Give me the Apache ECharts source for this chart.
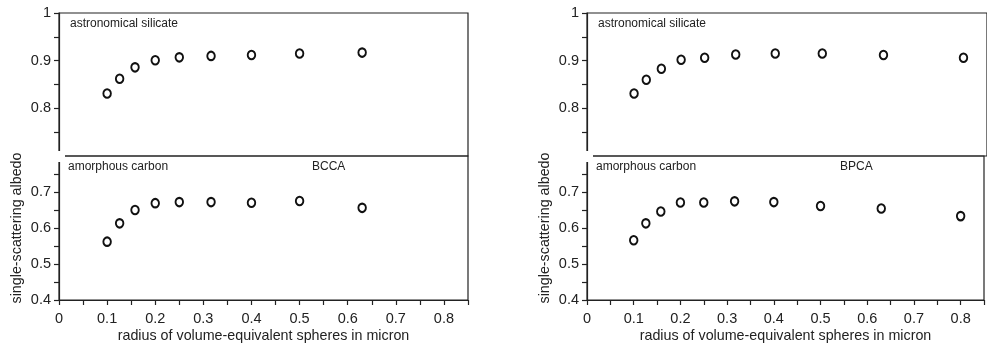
<!DOCTYPE html>
<html>
<head>
<meta charset="utf-8">
<script src="https://cdn.jsdelivr.net/npm/echarts@6/dist/echarts.min.js"></script>
<style>
  html, body { margin: 0; background: #fff; }
  #chart { width: 987px; height: 346px; }
</style>
</head>
<body>
<div id="chart"></div>
<script>
// radius of volume-equivalent spheres (micron)
const radiusBCCA = [0.1, 0.126, 0.158, 0.2, 0.25, 0.316, 0.4, 0.5, 0.63];
const radiusBPCA = [0.1, 0.126, 0.158, 0.2, 0.25, 0.316, 0.4, 0.5, 0.63, 0.8];

// single-scattering albedo
const silicateBCCA = [0.831, 0.862, 0.886, 0.901, 0.907, 0.910, 0.912, 0.915, 0.917];
const carbonBCCA = [0.562, 0.613, 0.650, 0.669, 0.672, 0.672, 0.670, 0.675, 0.656];
const silicateBPCA = [0.831, 0.860, 0.883, 0.902, 0.906, 0.913, 0.915, 0.915, 0.912, 0.906];
const carbonBPCA = [0.566, 0.613, 0.646, 0.671, 0.671, 0.674, 0.672, 0.661, 0.654, 0.633];

const ink = '#222';
const fontFamily = '"Liberation Sans", Arial, Helvetica, sans-serif';

// label only multiples of 0.1, optionally hiding one (in hundredths)
const tickLabel = (hide) => (v) => {
  const k = Math.round(v * 100);
  if (k % 10 !== 0 || k === hide) return '';
  return String(k / 100);
};

const panels = [
  { left: 59, width: 409, name: 'BCCA', radius: radiusBCCA, silicate: silicateBCCA, carbon: carbonBCCA },
  { left: 587, width: 408, name: 'BPCA', radius: radiusBPCA, silicate: silicateBPCA, carbon: carbonBPCA },
];

const grids = [];
const xAxes = [];
const yAxes = [];
const series = [];
const graphics = [];

const axisLine = { show: true, lineStyle: { color: ink, width: 1.2 } };
const axisTick = { show: true, inside: false, length: 5, lineStyle: { color: ink, width: 1.2 } };

panels.forEach((p) => {
  // top: astronomical silicate, bottom: amorphous carbon
  [
    { top: 13, height: 143, min: 0.7, max: 1, hide: 70, values: p.silicate, bottom: false },
    { top: 156, height: 144, min: 0.4, max: 0.8, hide: 80, values: p.carbon, bottom: true },
  ].forEach((g) => {
    const idx = grids.length;
    grids.push({
      left: p.left, width: p.width, top: g.top, height: g.height,
      show: true, borderColor: ink, borderWidth: 1.2, backgroundColor: 'transparent',
    });
    xAxes.push({
      gridIndex: idx, type: 'value', min: 0, max: 0.85, interval: 0.05,
      show: g.bottom,
      axisLine, axisTick,
      splitLine: { show: false },
      axisLabel: { formatter: tickLabel(-1), color: ink, fontSize: 14.5, fontFamily, margin: 11 },
      name: g.bottom ? 'radius of volume-equivalent spheres in micron' : '',
      nameLocation: 'middle', nameGap: 29,
      nameTextStyle: { color: ink, fontSize: 14.3, fontFamily },
    });
    yAxes.push({
      gridIndex: idx, type: 'value', min: g.min, max: g.max, interval: 0.05,
      axisLine, axisTick,
      splitLine: { show: false },
      axisLabel: { formatter: tickLabel(g.hide), color: ink, fontSize: 14.5, fontFamily, margin: 8 },
      name: g.bottom ? 'single-scattering albedo' : '',
      nameLocation: 'middle', nameGap: 35,
      nameTextStyle: { color: ink, fontSize: 14.3, fontFamily },
    });
    series.push({
      type: 'scatter', xAxisIndex: idx, yAxisIndex: idx,
      symbol: 'circle', symbolSize: [7.5, 8.5],
      itemStyle: { color: '#fff', borderColor: '#111', borderWidth: 2, opacity: 1 },
      data: p.radius.map((r, j) => [r, g.values[j]]),
    });
  });

  // gap between the two panels on the left axis
  graphics.push({
    type: 'rect', z: 100,
    shape: { x: p.left - 7, y: 151, width: 13, height: 11 },
    style: { fill: '#fff' },
  });
  const txt = (text, x, y) => graphics.push({
    type: 'text', z: 100, x, y,
    style: { text, fill: ink, fontSize: 12, fontFamily, verticalAlign: 'middle' },
  });
  txt('astronomical silicate', p.left + 11, 24);
  txt('amorphous carbon', p.left + 9, 167);
  txt(p.name, p.left + 253, 167);
});

const chart = echarts.init(document.getElementById('chart'));
chart.setOption({
  animation: false,
  grid: grids,
  xAxis: xAxes,
  yAxis: yAxes,
  series,
  graphic: graphics,
});
</script>
</body>
</html>
